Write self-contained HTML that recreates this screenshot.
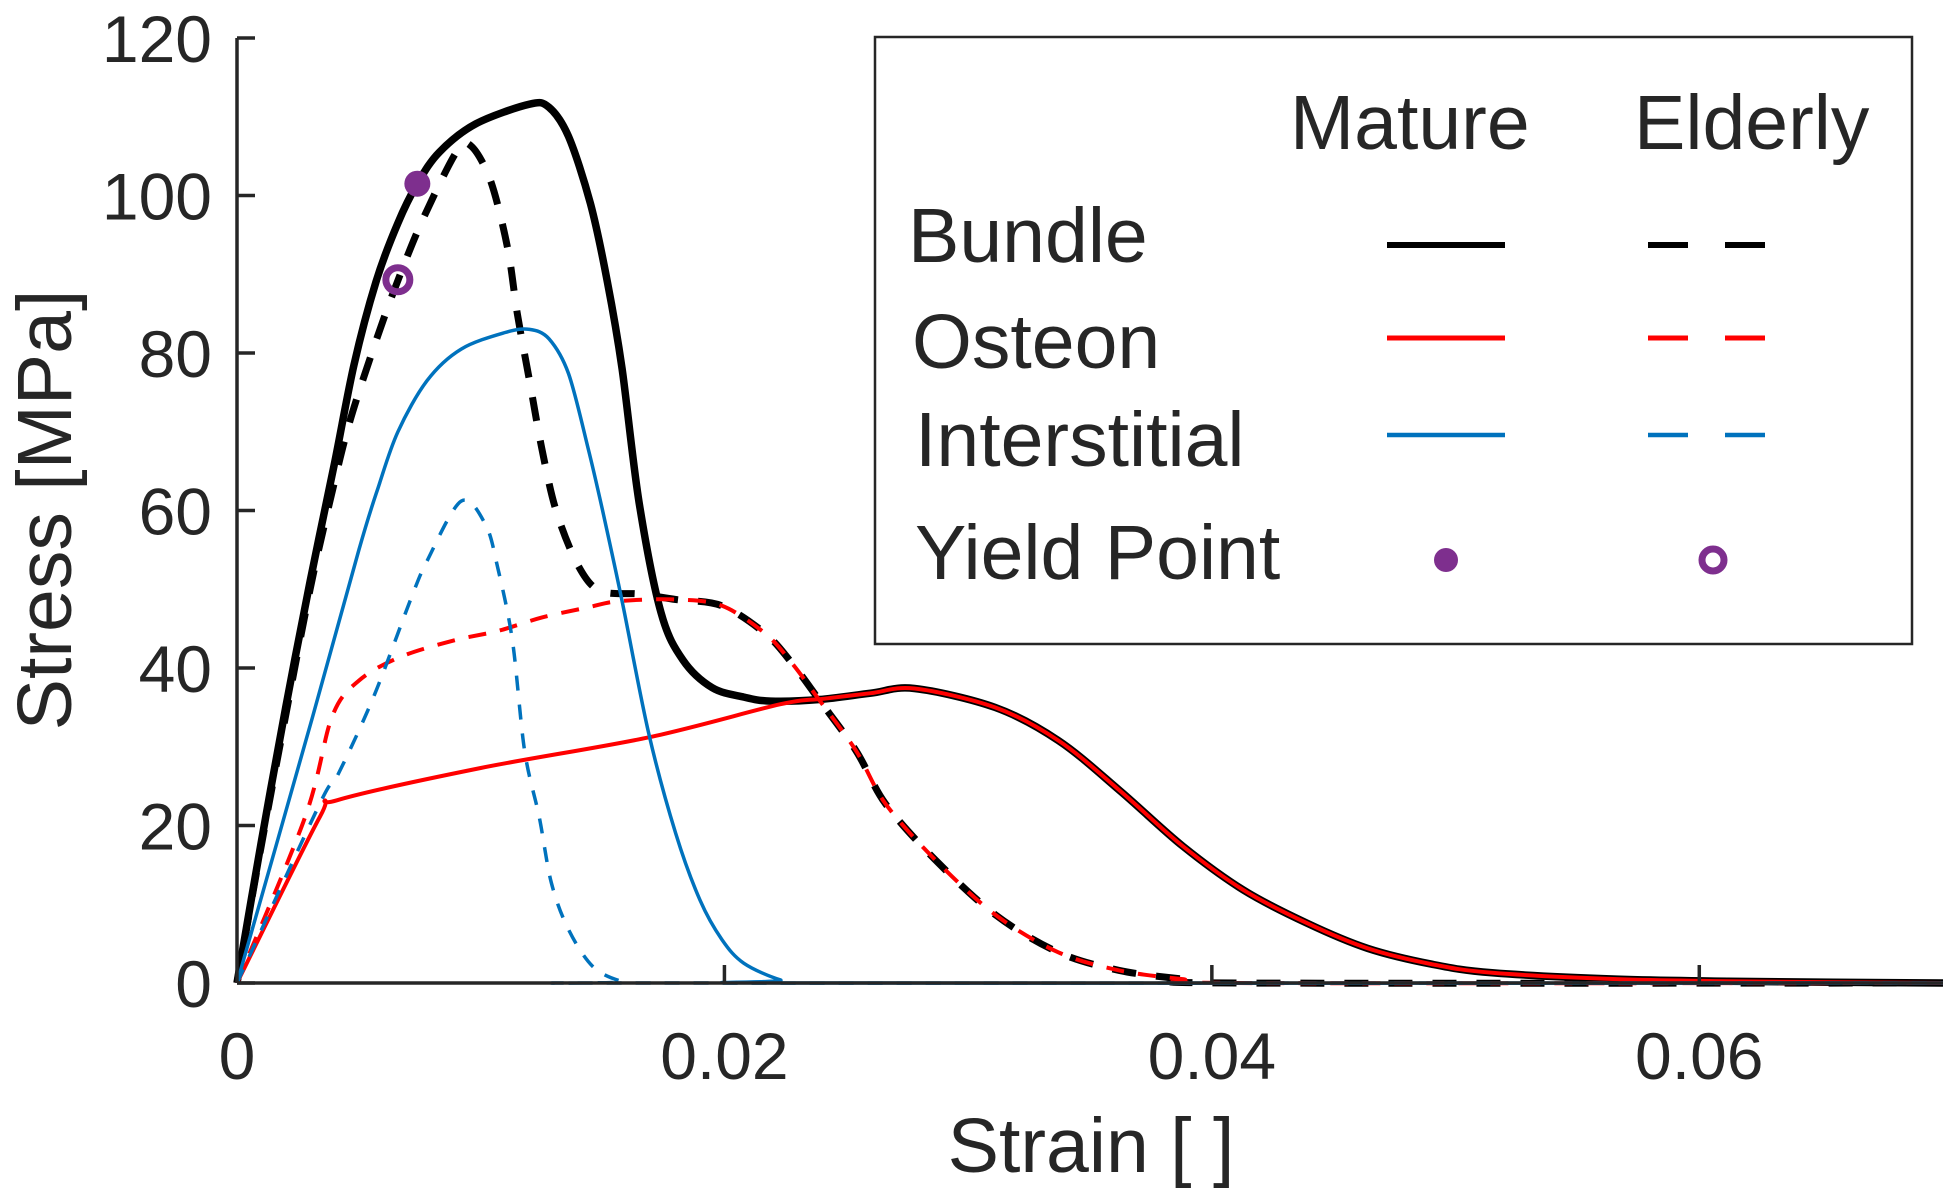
<!DOCTYPE html>
<html><head><meta charset="utf-8"><title>Stress-strain</title>
<style>
html,body{margin:0;padding:0;background:#fff;}
svg{display:block;font-family:"Liberation Sans",Arial,sans-serif;}
</style></head>
<body>
<svg id="chart" width="1950" height="1189" viewBox="0 0 1950 1189" xmlns="http://www.w3.org/2000/svg">
<rect width="1950" height="1189" fill="#fff"/>
<g id="series"></g>
<g id="axes"></g>
<g id="legend">
  <rect x="875" y="37" width="1037" height="607" fill="#fff" stroke="#262626" stroke-width="2.5"/>
  <text x="1290" y="149" font-size="77" fill="#262626">Mature</text>
  <text x="1634" y="149" font-size="77" fill="#262626">Elderly</text>
  <text x="908" y="262" font-size="77" fill="#262626">Bundle</text>
  <text x="912" y="368" font-size="77" fill="#262626">Osteon</text>
  <text x="915" y="466" font-size="77" fill="#262626">Interstitial</text>
  <text x="915" y="579" font-size="77" fill="#262626">Yield Point</text>
  <line x1="1387" y1="245" x2="1505" y2="245" stroke="#000" stroke-width="6"/>
  <line x1="1648" y1="245" x2="1766" y2="245" stroke="#000" stroke-width="6" stroke-dasharray="40 37"/>
  <line x1="1387" y1="338" x2="1505" y2="338" stroke="#ff0000" stroke-width="5"/>
  <line x1="1648" y1="338" x2="1766" y2="338" stroke="#ff0000" stroke-width="5" stroke-dasharray="40 37"/>
  <line x1="1387" y1="435" x2="1505" y2="435" stroke="#0072BD" stroke-width="4.5"/>
  <line x1="1648" y1="435" x2="1766" y2="435" stroke="#0072BD" stroke-width="4.5" stroke-dasharray="40 37"/>
  <circle cx="1446" cy="560" r="12" fill="#7E2F8E"/>
  <circle cx="1713" cy="560" r="11" fill="none" stroke="#7E2F8E" stroke-width="7"/>
</g>
<script>
// ---- data ----
const xTicks = [0, 0.02, 0.04, 0.06];
const xTickLabels = ["0", "0.02", "0.04", "0.06"];
const yTicks = [0, 20, 40, 60, 80, 100, 120];
const yTickLabels = ["0", "20", "40", "60", "80", "100", "120"];

const bundleMatureX = [0,0.0010,0.0020,0.0030,0.0040,0.0048,0.0057,0.0066,0.0074,0.0083,0.0098,0.0120,0.0128,0.0136,0.0145,0.0152,0.0158,0.0165,0.0174,0.0183,0.0195,0.0208,0.0219,0.0239,0.0260,0.0278,0.0311,0.0337,0.0362,0.0388,0.0413,0.0439,0.0464,0.0490,0.0515,0.0566,0.0617,0.0700];
const bundleMatureY = [0,18,35,51,66,78.5,89,96.5,101.5,105.5,109.1,111.6,111.2,107.5,99,89,78,61,47,41,37.5,36.3,35.8,36,36.8,37.4,35,30.8,24.5,17.4,11.8,7.6,4.4,2.4,1.3,0.5,0.2,0];

const bundleElderlyX = [0,0.0010,0.0020,0.0030,0.0038,0.0046,0.0057,0.0066,0.0076,0.0090,0.0096,0.0104,0.0111,0.0115,0.0120,0.0125,0.0131,0.0140,0.0149,0.0165,0.0180,0.0199,0.0217,0.0228,0.0239,0.0254,0.0266,0.0286,0.0311,0.0337,0.0362,0.0388,0.0410,0.0700];
const bundleElderlyY = [0,17.5,34,50,61,71,81.5,89.2,96.8,105.5,106.3,101.9,93.4,85,76.5,68,59.9,53,49.8,49.4,48.7,47.9,44.3,40.5,35.9,29.5,22.8,15.8,8.7,3.9,1.6,0.5,0,0];

const osteonMatureX = [0,0.0034,0.0041,0.0100,0.0169,0.0223,0.0241,0.0260,0.0278,0.0311,0.0337,0.0362,0.0388,0.0413,0.0439,0.0464,0.0490,0.0515,0.0566,0.0617,0.0700];
const osteonMatureY = [0,21.1,23.2,27.3,31.2,35.4,36.1,36.8,37.4,35,30.8,24.5,17.4,11.8,7.6,4.4,2.4,1.3,0.5,0.2,0];

const osteonElderlyX = [0,0.0028,0.0039,0.0050,0.0067,0.0089,0.0107,0.0125,0.0144,0.0157,0.0180,0.0199,0.0217,0.0228,0.0239,0.0254,0.0266,0.0286,0.0311,0.0337,0.0362,0.0388,0.0410,0.0700];
const osteonElderlyY = [0,21.1,33.8,38.4,41.4,43.5,44.7,46.4,47.7,48.5,48.7,47.9,44.3,40.5,35.9,29.5,22.8,15.8,8.7,3.9,1.6,0.5,0,0];

const interMatureX = [0,0.0031,0.0050,0.0058,0.0066,0.0078,0.0092,0.0110,0.0120,0.0128,0.0136,0.0144,0.0150,0.0158,0.0169,0.0180,0.0190,0.0199,0.0208,0.0223,0.0235,0.0700];
const interMatureY = [0,33.8,55,63,70,76.5,80.5,82.6,83,81.8,77.4,68,60,48.5,31.6,19,10.5,5.5,2.5,0.4,0,0];

const interElderlyX = [0,0.0034,0.0041,0.0056,0.0071,0.0078,0.0092,0.0102,0.0107,0.0113,0.0118,0.0124,0.0129,0.0136,0.0146,0.0158,0.0170,0.0700];
const interElderlyY = [0,22.8,26.2,36.3,48.5,53.6,61.2,58.2,52.7,43.5,29.5,21.1,12.7,6.8,2.1,0.2,0,0];

const yieldX = [0.0074, 0.0066];
const yieldY = [101.5, 89.3];

// ---- axis functions ----
const X0 = 237, X1 = 1943, Y0 = 983, Y1 = 38;
const xMax = 0.07, yMax = 120;
function sx(v){ return X0 + v / xMax * (X1 - X0); }
function sy(v){ return Y0 - v / yMax * (Y0 - Y1); }

const NS = "http://www.w3.org/2000/svg";
function mk(tag, attrs){ const e = document.createElementNS(NS, tag); for (const k in attrs) e.setAttribute(k, attrs[k]); return e; }

function smoothPath(xs, ys){
  const p = xs.map((x,i)=>[sx(x), sy(ys[i])]);
  let d = "M" + p[0][0].toFixed(1) + "," + p[0][1].toFixed(1);
  for (let i = 0; i < p.length - 1; i++){
    const p0 = p[i-1] || p[i], p1 = p[i], p2 = p[i+1], p3 = p[i+2] || p2;
    const t = 0.16;
    const c1 = [p1[0] + (p2[0]-p0[0])*t, p1[1] + (p2[1]-p0[1])*t];
    const c2 = [p2[0] - (p3[0]-p1[0])*t, p2[1] - (p3[1]-p1[1])*t];
    d += " C" + c1[0].toFixed(1)+","+c1[1].toFixed(1)+" "+c2[0].toFixed(1)+","+c2[1].toFixed(1)+" "+p2[0].toFixed(1)+","+p2[1].toFixed(1);
  }
  return d;
}

const g = document.getElementById("series");
const seriesDefs = [
  [bundleMatureX, bundleMatureY, "#000", 7.5, null, "series-bundle-mature"],
  [bundleElderlyX, bundleElderlyY, "#000", 7, "24 20", "series-bundle-elderly"],
  [osteonMatureX, osteonMatureY, "#ff0000", 4, null, "series-osteon-mature"],
  [osteonElderlyX, osteonElderlyY, "#ff0000", 4, "18 14", "series-osteon-elderly"],
  [interMatureX, interMatureY, "#0072BD", 3.5, null, "series-interstitial-mature"],
  [interElderlyX, interElderlyY, "#0072BD", 3.5, "15 14", "series-interstitial-elderly"]
];
seriesDefs.forEach(s => {
  const path = mk("path", {d: smoothPath(s[0], s[1]), fill: "none", stroke: s[2], "stroke-width": s[3], "stroke-linejoin": "round"});
  if (s[4]) path.setAttribute("stroke-dasharray", s[4]);
  
  
  g.appendChild(path);
});
const ym = mk("circle", {cx: sx(yieldX[0]), cy: sy(yieldY[0]), r: 13, fill: "#7E2F8E"});


g.appendChild(ym);
const ye = mk("circle", {cx: sx(yieldX[1]), cy: sy(yieldY[1]), r: 12, fill: "none", stroke: "#7E2F8E", "stroke-width": 7});


g.appendChild(ye);

const ax = document.getElementById("axes");
const yAxis = mk("line", {x1: X0, y1: Y1, x2: X0, y2: Y0, stroke: "#262626", "stroke-width": 3.5});


ax.appendChild(yAxis);
const xAxis = mk("line", {x1: X0, y1: Y0, x2: X1, y2: Y0, stroke: "#262626", "stroke-width": 3.5});


ax.appendChild(xAxis);
yTicks.forEach((v,i) => {
  const t = mk("line", {x1: X0, y1: sy(v), x2: X0 + 18, y2: sy(v), stroke: "#262626", "stroke-width": 3.5});
  
  
  ax.appendChild(t);
  const lb = mk("text", {x: 212, y: sy(v) + 24, "font-size": 66, "text-anchor": "end", fill: "#262626"});
  lb.textContent = yTickLabels[i];
  
  
  ax.appendChild(lb);
});
xTicks.forEach((v,i) => {
  if (v > 0) {
    const t = mk("line", {x1: sx(v), y1: Y0, x2: sx(v), y2: Y0 - 18, stroke: "#262626", "stroke-width": 3.5});
    
    
    ax.appendChild(t);
  }
  const lb = mk("text", {x: sx(v), y: 1079, "font-size": 66, "text-anchor": "middle", fill: "#262626"});
  lb.textContent = xTickLabels[i];
  
  
  ax.appendChild(lb);
});
const xt = mk("text", {x: 1091, y: 1172, "font-size": 77, "text-anchor": "middle", fill: "#262626"});
xt.textContent = "Strain [ ]";


ax.appendChild(xt);
const yt = mk("text", {x: 0, y: 0, "font-size": 77, "text-anchor": "middle", fill: "#262626", transform: "translate(71,510) rotate(-90)"});
yt.textContent = "Stress [MPa]";


ax.appendChild(yt);
</script>
</svg>
</body></html>
